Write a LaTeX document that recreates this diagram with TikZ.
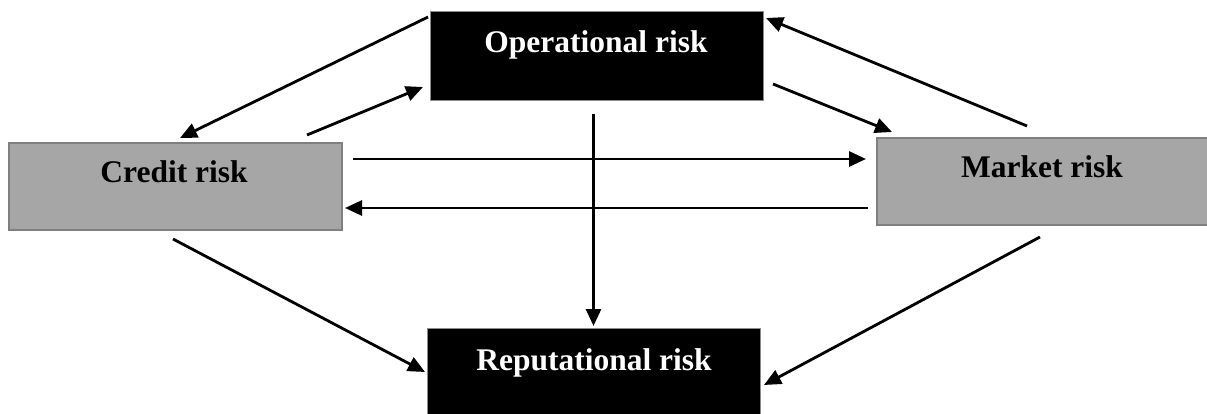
\documentclass[tikz,border=0pt]{standalone}
\usepackage{fontspec}
\setmainfont{Liberation Serif}
\usetikzlibrary{arrows.meta,calc}
\definecolor{boxgray}{HTML}{A6A6A6}
\definecolor{edgegray}{HTML}{7F7F7F}
\tikzset{
  graybox/.style={rectangle, fill=boxgray, draw=edgegray, line width=2pt,
    minimum width=333pt, minimum height=87pt, inner sep=0pt, anchor=north west},
  blackbox/.style={rectangle, fill=black, draw=black!45, line width=1pt,
    minimum width=333pt, minimum height=89pt, inner sep=0pt, anchor=north west},
  darktext/.style={anchor=base, inner sep=0pt, text=black,
    font=\fontsize{31.5}{36}\selectfont\bfseries},
  lighttext/.style={darktext, text=white},
  link/.style={line width=2.8pt, -{Triangle[length=17pt,width=15pt]}}
}
\begin{document}
\begin{tikzpicture}[x=1pt,y=-1pt]
\useasboundingbox (0,0) rectangle (1207,414);

% risk boxes
\node[blackbox] (op) at (430,11) {};
\node[graybox]  (cr) at (8,142) {};
\node[graybox]  (mk) at (876,137) {};
\node[blackbox] (rp) at (427,328) {};

% box captions
\node[lighttext] (opt) at (596,53) {Operational risk};
\node[darktext]  (crt) at (174,183) {Credit risk};
\node[darktext]  (mkt) at (1042,178) {Market risk};
\node[lighttext] (rpt) at (594,370) {Reputational risk};

% links between the risks
\draw[link] ($(op.north west)+(-2,6)$)   -- ($(cr.north west)+(172,-4)$);
\draw[link] ($(cr.north east)+(-36,-7)$) -- ($(op.north west)+(-7,76)$);
\draw[link] ($(op.south east)+(9,-17)$)  -- ($(mk.north west)+(16,-5)$);
\draw[link] ($(mk.north west)+(151,-11)$) -- ($(op.north east)+(2,7)$);
\draw[link] ($(cr.north east)+(10,17)$)  -- ($(mk.north west)+(-10,22)$);
\draw[link] ($(mk.north west)+(-8,71)$)  -- ($(cr.north east)+(2,66)$);
\draw[link] ($(op.south)+(-3.5,13)$)     -- ($(rp.north)+(-0.5,-2)$);
\draw[link] ($(cr.south west)+(165,8)$)  -- ($(rp.north west)+(-2,44)$);
\draw[link] ($(mk.south west)+(164,11)$) -- ($(rp.north east)+(3,57)$);
\end{tikzpicture}
\end{document}
